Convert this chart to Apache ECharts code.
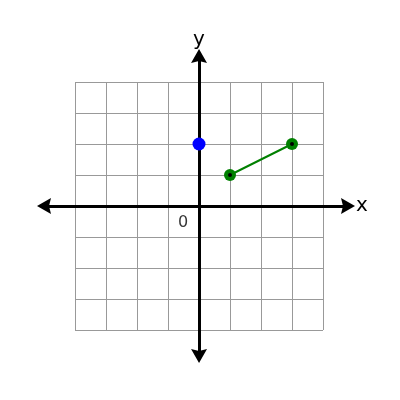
<!DOCTYPE html>
<html>
<head>
<meta charset="utf-8">
<script src="https://cdn.jsdelivr.net/npm/echarts@6/dist/echarts.min.js"></script>
<style>
  html, body { margin: 0; padding: 0; background: #fff; }
  #chart { width: 400px; height: 400px; }
</style>
</head>
<body>
<div id="chart"></div>
<script>
// plot data
const bluePoint = [[0, 2]];
const greenSegment = [[1, 1], [3, 2]];
const axisRange = [-4, 4];
// the arrowed axes run a bit past the graph paper
const xArrowRange = [-5.1, 4.9];
const yArrowRange = [-5, 5];

let myChart = echarts.init(document.getElementById('chart'));

const hidden = { axisTick: { show: false }, axisLabel: { show: false }, splitLine: { show: false } };
const arrowLine = {
    show: true, onZero: true,
    symbol: ['path://M8,0 L16,14 L8,12 L0,14 Z', 'path://M8,0 L16,14 L8,12 L0,14 Z'],
    symbolSize: [16, 14],
    lineStyle: { color: '#000', width: 3 }
};

myChart.setOption({
    animation: false,
    textStyle: { fontFamily: 'DejaVu Sans' },
    grid: [
        { left: 75, top: 82, width: 248, height: 248 },
        { left: 44, top: 56, width: 304, height: 300 }
    ],
    xAxis: [
        {
            type: 'value', min: axisRange[0], max: axisRange[1], interval: 1, gridIndex: 0,
            axisLine: { show: false }, axisTick: { show: false }, axisLabel: { show: false },
            splitLine: { lineStyle: { color: '#999', width: 1 } }
        },
        Object.assign({
            type: 'value', min: xArrowRange[0], max: xArrowRange[1], gridIndex: 1,
            axisLine: arrowLine,
            name: 'x', nameLocation: 'end', nameGap: 8,
            nameTextStyle: { color: '#000', fontSize: 20, verticalAlign: 'middle' }
        }, hidden)
    ],
    yAxis: [
        {
            type: 'value', min: axisRange[0], max: axisRange[1], interval: 1, gridIndex: 0,
            axisLine: { show: false }, axisTick: { show: false }, axisLabel: { show: false },
            splitLine: { lineStyle: { color: '#999', width: 1 } }
        },
        Object.assign({
            type: 'value', min: yArrowRange[0], max: yArrowRange[1], gridIndex: 1,
            axisLine: arrowLine,
            name: 'y', nameLocation: 'end', nameGap: 6,
            nameTextStyle: { color: '#000', fontSize: 20, align: 'center' }
        }, hidden)
    ],
    series: [
        {
            // origin label
            type: 'scatter',
            symbolSize: 0,
            data: [{ value: [0, 0], label: { formatter: '0' } }],
            label: { show: true, position: 'inside', offset: [-16, 17], color: '#000', fontSize: 16 },
            z: 5
        },
        {
            type: 'line',
            data: greenSegment,
            symbol: 'circle',
            symbolSize: 12,
            itemStyle: { color: '#008000', opacity: 1 },
            lineStyle: { color: '#008000', width: 2 },
            z: 6
        },
        {
            type: 'scatter',
            data: greenSegment,
            symbolSize: 4,
            itemStyle: { color: '#000', opacity: 1 },
            z: 7
        },
        {
            type: 'scatter',
            data: bluePoint,
            symbolSize: 13,
            itemStyle: { color: '#0000ff', opacity: 1 },
            z: 7
        }
    ]
});
</script>
</body>
</html>
